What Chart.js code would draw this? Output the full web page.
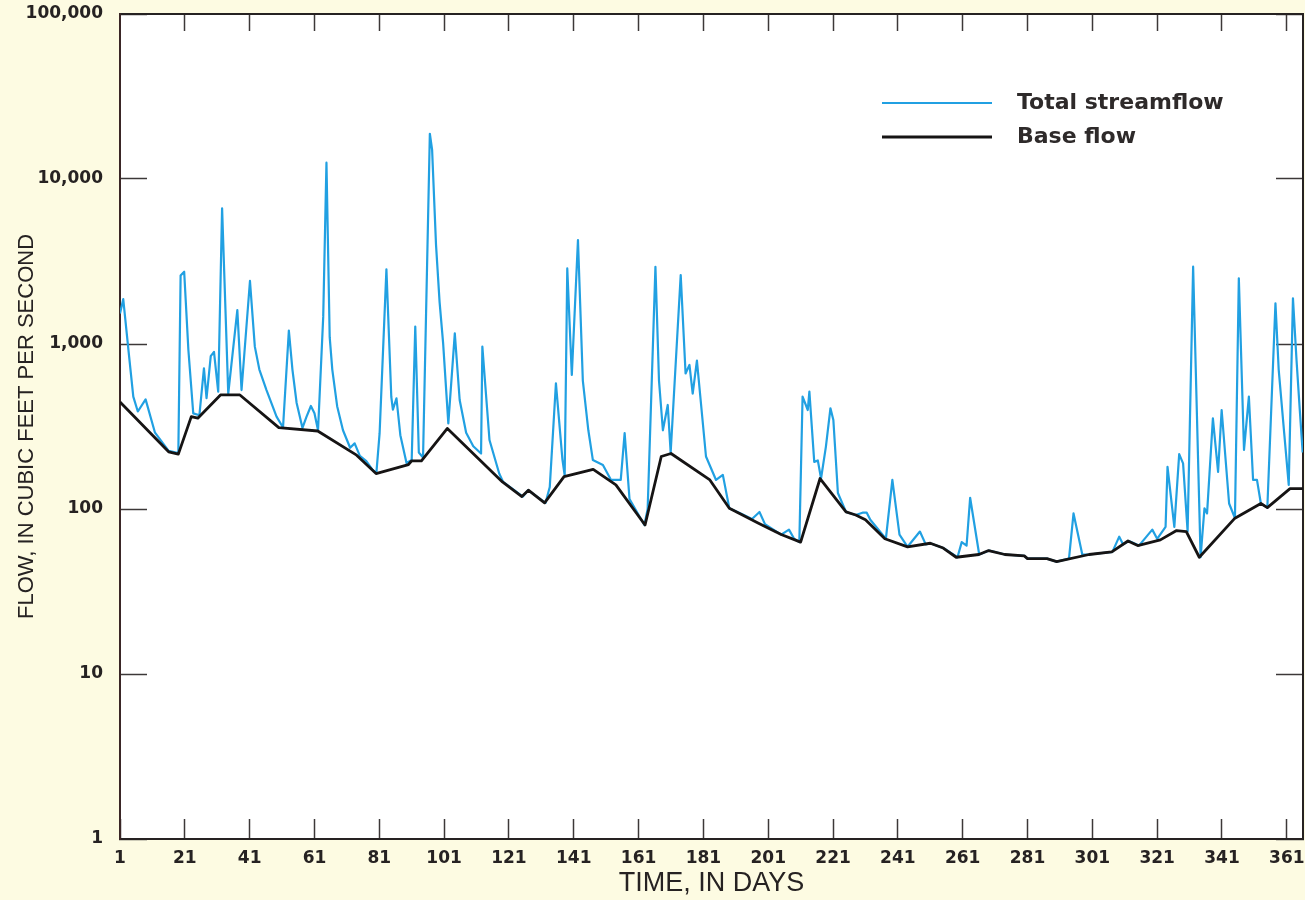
<!DOCTYPE html>
<html>
<head>
<meta charset="utf-8">
<title>Total streamflow and base flow</title>
<script src="https://cdn.jsdelivr.net/npm/chart.js@4.4.1/dist/chart.umd.min.js"></script>
<style>
    html, body { margin: 0; padding: 0; background: #fdfbe2; }
    #wrap { position: relative; width: 1305px; height: 900px; }
</style>
</head>
<body>
<div id="wrap"><canvas id="flowChart"></canvas></div>
<script>
// Day of year and flow (cubic feet per second)
const streamDays = [1, 2, 3.6, 5.1, 6.5, 8.9, 11.8, 16, 19, 19.7, 20.8, 22.1, 23.6, 25.5, 26.9, 27.7, 29, 30, 31.3, 32.5,
    34.4, 37.2, 38.5, 41.1, 42.6, 44, 46.2, 49.3, 51.3, 53.1, 54.2, 55.5, 57.3, 58.5, 59.9, 61, 62.1, 63.7, 64.7, 65.7,
    66.5, 68, 69.8, 72, 73.4, 75, 77, 79, 80.1, 81.1, 83.2, 84.7, 85.2, 86.3, 87.5, 89.4, 91, 92.1, 93.2, 94.5,
    96.6, 97.3, 98.5, 99.6, 100.7, 102.3, 104.3, 105.8, 107.8, 110, 112.4, 112.8, 115, 118, 119.2, 125.3, 126.9, 132.3, 133.6, 135.5,
    137.5, 138.2, 139, 140.4, 142.3, 143.8, 145.5, 146.9, 150, 152.5, 155.5, 156.7, 158.2, 162.8, 163.8, 166.2, 167.3, 168.5, 170, 170.9,
    174, 175.5, 176.7, 177.7, 179, 181.8, 184.9, 187, 189, 193, 196, 198.3, 200, 205, 207.4, 209, 210.6, 211.6, 213.2, 213.7,
    215.2, 216.3, 217.3, 218.8, 220.2, 221.1, 222.5, 225, 228, 230.1, 231.4, 232.5, 237.3, 239.3, 241.5, 244, 247.8, 249.6, 251, 255,
    259.4, 260.7, 262.2, 263.3, 266.1, 269.2, 274, 280, 281, 287, 290, 293.8, 295.2, 297.9, 300, 307.2, 309.3, 310.5, 312.3, 315.4,
    319.5, 321, 323.6, 324.2, 326.3, 327.8, 329, 330.4, 332.1, 334.4, 335.6, 336.4, 338.2, 339.8, 340.9, 343.2, 345, 346.2, 347.8, 349.3,
    350.6, 351.8, 353, 355, 357.5, 358.5, 360.2, 361.6, 362.9, 364, 365, 365.9];
const streamFlow = [1530, 1870, 920, 480, 390, 462, 290, 225, 218, 2600, 2740, 920, 380, 370, 713, 469, 845, 897, 514, 6640,
    500, 1607, 526, 2410, 964, 700, 526, 363, 312, 1205, 700, 439, 310, 360, 421, 380, 300, 1460, 12560, 1100,
    700, 420, 300, 235, 250, 210, 195, 172, 165, 288, 2832, 479, 400, 469, 280, 190, 198, 1274, 220, 205,
    18800, 15000, 4000, 1800, 1010, 330, 1160, 458, 290, 240, 217, 964, 262, 164, 146, 119, 130, 109, 136, 578,
    200, 160, 2870, 649, 4266, 600, 300, 198, 185, 150, 150, 288, 115, 80, 100, 2936, 600, 300, 427, 220,
    2620, 663, 747, 501, 792, 208, 150, 161, 101, 93, 87, 96, 81, 70, 75, 66, 63, 480, 398, 514,
    193, 197, 153, 239, 408, 346, 125, 96, 92, 95, 95, 86, 66, 150, 70, 59, 73, 61, 62, 58,
    51, 63, 60, 117, 53, 56, 53, 52, 50, 50, 48, 50, 94, 53, 53, 55, 68, 61, 64, 60,
    75, 66, 78, 180, 78, 215, 189, 73, 2940, 51, 101, 94, 354, 168, 398, 108, 88, 2500, 228, 480,
    150, 150, 108, 102, 1765, 700, 288, 140, 1890, 800, 400, 220];

const baseDays = [1, 16, 19, 23, 25, 32, 38, 50, 62, 74, 80, 90, 91, 94, 102, 119, 125, 127, 132, 138,
    147, 154, 163, 168, 171, 183, 189, 198, 205, 211, 217, 225, 228, 231, 237, 244, 251, 255, 259, 266,
    269, 274, 280, 281, 287, 290, 300, 307, 312, 315, 322, 327, 330, 334, 345, 353, 355, 362, 366];
const baseFlow = [445, 222, 215, 363, 355, 491, 491, 311, 297, 212, 164, 186, 196, 196, 308, 146, 119, 130, 109, 157,
    174, 140, 80, 208, 217, 150, 101, 82, 70, 63, 153, 96, 92, 86, 66, 59, 62, 58, 51, 53,
    56, 53, 52, 50, 50, 48, 53, 55, 64, 60, 65, 74, 73, 51, 88, 108, 102, 133, 133];

const dayTicks = [1, 21, 41, 61, 81, 101, 121, 141, 161, 181, 201, 221, 241, 261, 281, 301, 321, 341, 361];
const flowTicks = [1, 10, 100, 1000, 10000, 100000];

const inkColor = '#262222';
const tickFont = { family: 'DejaVu Sans', weight: 'bold', size: 17 };

// White plotting area on the cream page
const plotBackground = {
    id: 'plotBackground',
    beforeDraw(chart) {
        const { ctx, chartArea } = chart;
        ctx.save();
        ctx.fillStyle = '#ffffff';
        ctx.fillRect(chartArea.left, chartArea.top, chartArea.right - chartArea.left, chartArea.bottom - chartArea.top);
        ctx.restore();
    }
};

// Key inside the upper right of the plot
const keyInside = {
    id: 'keyInside',
    afterDraw(chart) {
        const { ctx, chartArea } = chart;
        ctx.save();
        ctx.font = 'bold 22px "DejaVu Sans"';
        ctx.textBaseline = 'middle';
        ctx.textAlign = 'left';
        chart.data.datasets.forEach((ds, i) => {
            const x = chartArea.right - 421;
            const y = chartArea.top + 89 + i * 34;
            ctx.strokeStyle = ds.borderColor;
            ctx.lineWidth = ds.borderWidth;
            ctx.beginPath();
            ctx.moveTo(x, y);
            ctx.lineTo(x + 110, y);
            ctx.stroke();
            ctx.fillStyle = '#2e2a2a';
            ctx.fillText(ds.label, x + 135, y);
        });
        ctx.restore();
    }
};

function tickGrid(len) {
    return { drawOnChartArea: false, drawTicks: true, tickLength: len, tickColor: '#3c3838', tickWidth: 1.5 };
}

// fixed axis sizes, and no extra room asked for by the tick labels
function fixSize(size) {
    return s => {
        if (s.isHorizontal()) { s.height = size; } else { s.width = size; }
        s.paddingTop = 0; s.paddingBottom = 0; s.paddingLeft = 0; s.paddingRight = 0;
    };
}

const ctx = document.getElementById('flowChart').getContext('2d');
new Chart(ctx, {
    type: 'line',
    data: {
        datasets: [{
            label: 'Total streamflow',
            data: streamDays.map((d, i) => ({ x: d, y: streamFlow[i] })),
            borderColor: '#21a0e2',
            borderWidth: 2.2,
            borderJoinStyle: 'round',
            pointRadius: 0,
            tension: 0,
            order: 2
        }, {
            label: 'Base flow',
            data: baseDays.map((d, i) => ({ x: d, y: baseFlow[i] })),
            borderColor: '#161414',
            borderWidth: 2.8,
            borderJoinStyle: 'round',
            pointRadius: 0,
            tension: 0,
            order: 1
        }]
    },
    options: {
        responsive: true,
        maintainAspectRatio: false,
        animation: false,
        layout: { padding: { top: 14, right: 2, left: 0, bottom: 0 } },
        plugins: {
            legend: { display: false },
            tooltip: { enabled: false }
        },
        scales: {
            x: {
                type: 'linear',
                position: 'bottom',
                min: 1,
                max: 366,
                afterBuildTicks: s => { s.ticks = dayTicks.map(v => ({ value: v })); },
                afterFit: fixSize(61),
                ticks: {
                    autoSkip: false,
                    maxRotation: 0,
                    padding: 29,
                    color: inkColor,
                    font: tickFont,
                    callback: v => String(v)
                },
                grid: tickGrid(-20),
                border: { display: true, color: inkColor, width: 2 },
                title: {
                    display: true,
                    text: 'TIME, IN DAYS',
                    color: inkColor,
                    font: { family: 'Liberation Sans', size: 27 },
                    padding: { top: 0, bottom: 0 }
                }
            },
            x2: {
                type: 'linear',
                position: 'top',
                min: 1,
                max: 366,
                afterBuildTicks: s => { s.ticks = dayTicks.slice(1).map(v => ({ value: v })); },
                afterFit: fixSize(0),
                ticks: { display: false },
                grid: tickGrid(-17),
                border: { display: true, color: inkColor, width: 2 }
            },
            y: {
                type: 'logarithmic',
                position: 'left',
                min: 1,
                max: 100000,
                afterBuildTicks: s => { s.ticks = flowTicks.map(v => ({ value: v })); },
                afterFit: fixSize(120),
                ticks: {
                    padding: 44,
                    color: inkColor,
                    font: tickFont,
                    callback: v => Number(v).toLocaleString('en-US')
                },
                grid: tickGrid(-27),
                border: { display: true, color: '#3a2626', width: 2 },
                title: {
                    display: true,
                    text: 'FLOW, IN CUBIC FEET PER SECOND',
                    color: inkColor,
                    font: { family: 'Liberation Sans', size: 22 },
                    padding: { top: 14, bottom: 0 }
                }
            },
            y2: {
                type: 'logarithmic',
                position: 'right',
                min: 1,
                max: 100000,
                afterBuildTicks: s => { s.ticks = flowTicks.map(v => ({ value: v })); },
                afterFit: fixSize(0),
                ticks: { display: false },
                grid: tickGrid(-27),
                border: { display: true, color: inkColor, width: 2 }
            }
        }
    },
    plugins: [plotBackground, keyInside]
});
</script>
</body>
</html>
